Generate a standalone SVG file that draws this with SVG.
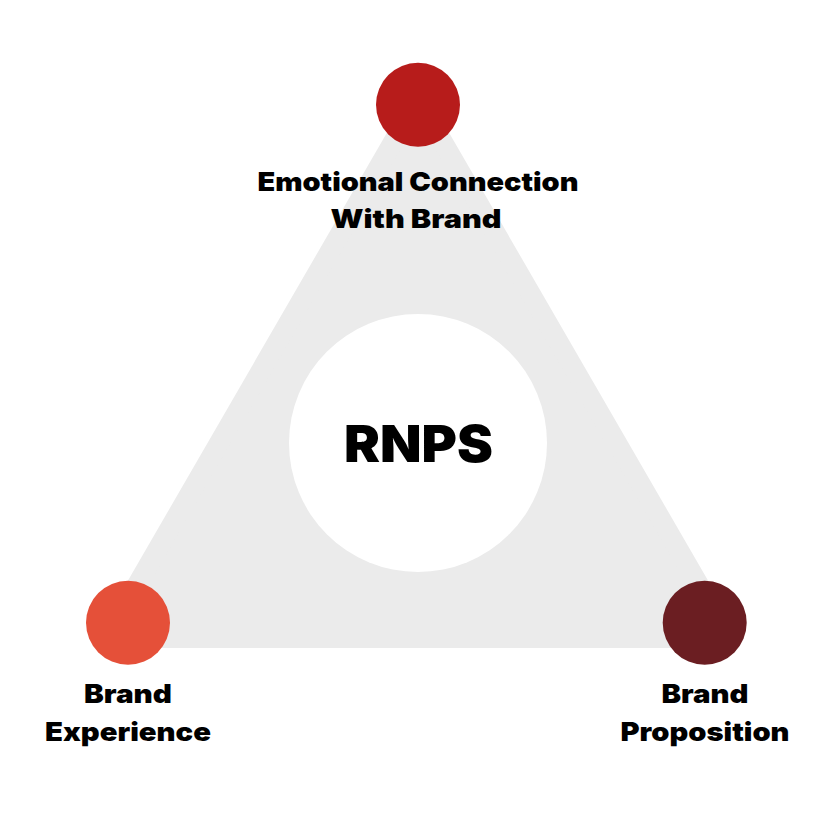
<svg xmlns="http://www.w3.org/2000/svg" width="822" height="822" viewBox="0 0 822 822">
<style>
.lbl{font-family:Inter,"Open Sans","Liberation Sans",sans-serif;font-weight:900;font-size:26px;fill:#000;text-anchor:middle}
.core{font-family:Inter,"Open Sans","Liberation Sans",sans-serif;font-weight:900;font-size:51px;fill:#000;text-anchor:middle}
</style>
<rect width="822" height="822" fill="#fff"/>
<g id="connectors">
<polygon points="418,99 106.3,638 729.7,638" fill="#ebebeb" stroke="#ebebeb" stroke-width="20" stroke-linejoin="round"/>
</g>
<g id="center">
<circle cx="418" cy="443" r="129" fill="#fff"/>
<text class="core" x="418.5" y="462" textLength="149" lengthAdjust="spacingAndGlyphs">RNPS</text>
</g>
<g id="emotional">
<circle cx="418" cy="104.7" r="42" fill="#b71c1b"/>
<text class="lbl" x="418" y="191" textLength="321" lengthAdjust="spacingAndGlyphs">Emotional Connection</text>
<text class="lbl" x="416" y="228" textLength="171" lengthAdjust="spacingAndGlyphs">With Brand</text>
</g>
<g id="experience">
<circle cx="128" cy="622.7" r="42" fill="#e55039"/>
<text class="lbl" x="128" y="703" textLength="88" lengthAdjust="spacingAndGlyphs">Brand</text>
<text class="lbl" x="128" y="741" textLength="166" lengthAdjust="spacingAndGlyphs">Experience</text>
</g>
<g id="proposition">
<circle cx="704.7" cy="622.7" r="42" fill="#6b1e22"/>
<text class="lbl" x="705" y="703" textLength="87" lengthAdjust="spacingAndGlyphs">Brand</text>
<text class="lbl" x="705" y="741" textLength="169" lengthAdjust="spacingAndGlyphs">Proposition</text>
</g>
</svg>
